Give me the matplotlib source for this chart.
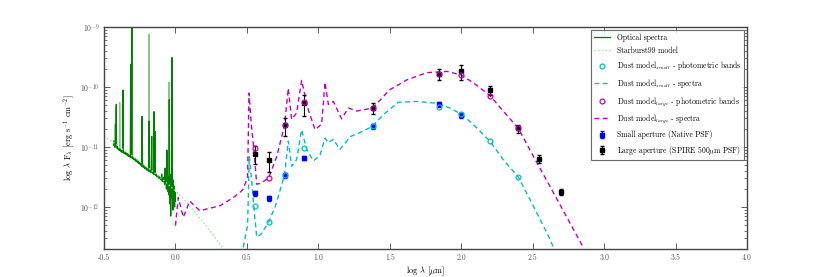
import numpy as np
import matplotlib
matplotlib.use("Agg")
import matplotlib.pyplot as plt

plt.rcParams['font.family'] = 'serif'
plt.rcParams['font.serif'] = ['cmr10', 'DejaVu Serif']
plt.rcParams['mathtext.fontset'] = 'cm'
plt.rcParams['axes.formatter.use_mathtext'] = True
plt.rcParams['axes.unicode_minus'] = True

# optical spectra (log lambda [um], log lambda F_lambda)
opt_x = [-0.432, -0.430, -0.428, -0.425, -0.422, -0.420, -0.418, -0.416, -0.414,
         -0.412, -0.408, -0.405, -0.400, -0.396, -0.392, -0.388, -0.384, -0.380,
         -0.376, -0.372, -0.369, -0.367, -0.365, -0.360, -0.356, -0.352, -0.348,
         -0.344, -0.340, -0.336, -0.332, -0.328, -0.324, -0.320, -0.316, -0.313,
         -0.311, -0.308, -0.305, -0.303, -0.300, -0.296, -0.292, -0.288, -0.284,
         -0.280, -0.276, -0.272, -0.268, -0.264, -0.260, -0.256, -0.252, -0.248,
         -0.244, -0.240, -0.236, -0.233, -0.230, -0.226, -0.222, -0.218, -0.214,
         -0.210, -0.206, -0.202, -0.198, -0.194, -0.190, -0.187, -0.185, -0.182,
         -0.178, -0.174, -0.170, -0.166, -0.163, -0.159, -0.155, -0.152, -0.150,
         -0.147, -0.143, -0.140, -0.136, -0.132, -0.128, -0.124, -0.120, -0.116,
         -0.112, -0.108, -0.104, -0.100, -0.096, -0.092, -0.088, -0.084, -0.080,
         -0.076, -0.072, -0.069, -0.066, -0.063, -0.060, -0.057, -0.054, -0.051,
         -0.048, -0.045, -0.043, -0.041, -0.038, -0.036, -0.033, -0.030, -0.027,
         -0.024, -0.021, -0.018, -0.015, -0.012, -0.009, -0.006, -0.003, 0.000]
opt_y = [-10.90, -10.97, -10.94, -11.00, -10.96, -10.62, -11.00, -10.98, -10.29,
         -11.01, -10.99, -11.03, -11.02, -11.05, -11.03, -11.06, -11.04, -11.08,
         -11.06, -11.09, -11.07, -10.05, -11.10, -11.08, -11.11, -11.09, -11.12,
         -11.10, -11.13, -11.11, -11.15, -11.13, -11.16, -11.14, -11.17, -9.62,
         -11.16, -11.18, -8.95, -11.17, -11.19, -11.18, -11.21, -11.19, -11.22,
         -11.20, -11.24, -11.22, -11.25, -11.23, -11.27, -11.25, -11.28, -11.26,
         -11.30, -11.28, -11.32, -10.49, -11.33, -11.30, -11.34, -11.32, -11.36,
         -11.34, -11.37, -11.35, -11.39, -11.37, -11.40, -11.38, -10.57, -11.41,
         -11.39, -11.42, -11.40, -10.82, -11.43, -11.41, -11.45, -11.43, -10.41,
         -11.46, -10.74, -11.47, -11.45, -11.49, -11.47, -11.50, -11.48, -11.52,
         -11.50, -11.53, -11.51, -11.55, -11.45, -11.57, -11.52, -11.58, -11.50,
         -11.62, -11.35, -11.60, -11.52, -11.70, -11.05, -11.65, -11.48, -11.75,
         -11.55, -11.80, -10.21, -11.62, -11.95, -11.50, -12.15, -11.45, -11.85,
         -9.51, -11.70, -12.05, -11.55, -11.95, -11.65, -12.00, -11.75, -11.90]

opt2_x = [-0.430, -0.420, -0.418, -0.415, -0.392, -0.390, -0.387, -0.360, -0.330,
          -0.300, -0.270, -0.236, -0.234, -0.231, -0.210, -0.187, -0.185, -0.182,
          -0.150, -0.120, -0.090, -0.065, -0.050, -0.047, -0.045, -0.042, -0.030,
          -0.020, -0.010, 0.000]
opt2_y = [-10.97, -11.00, -10.35, -11.01, -11.05, -10.26, -11.06, -11.10, -11.14,
          -11.17, -11.22, -11.29, -10.50, -11.30, -11.34, -11.38, -9.12, -11.39,
          -11.44, -11.49, -11.53, -11.57, -11.62, -11.63, -9.92, -11.65, -11.75,
          -11.60, -11.85, -11.80]

# Starburst99 model
sb_x = [-0.5, -0.4, -0.3, -0.2, -0.1, 0.0, 0.1, 0.2, 0.3, 0.36]
sb_y = [-10.82, -10.98, -11.15, -11.33, -11.52, -11.73, -11.98, -12.27, -12.58, -12.78]

# dust model spectra
large_x = [0.00, 0.02, 0.055, 0.10, 0.17, 0.31, 0.40, 0.45, 0.475, 0.505, 0.515,
           0.53, 0.548, 0.569, 0.60, 0.653, 0.71, 0.763, 0.79, 0.813, 0.848, 0.883,
           0.93, 0.977, 1.023, 1.047, 1.07, 1.105, 1.163, 1.21, 1.27, 1.38, 1.50,
           1.62, 1.76, 1.90, 2.00, 2.085, 2.20, 2.294, 2.40, 2.504, 2.62, 2.854]
large_y = [-12.31, -11.84, -12.17, -11.90, -12.06, -11.98, -11.85, -11.76, -11.70,
           -11.50, -10.10, -10.60, -11.02, -11.62, -11.60, -11.51, -11.15, -10.64,
           -10.02, -10.54, -10.43, -9.89, -10.38, -10.71, -10.62, -9.92, -10.29,
           -10.24, -10.53, -10.35, -10.40, -10.35, -10.045, -9.88, -9.76, -9.74,
           -9.80, -9.93, -10.14, -10.40, -10.69, -11.15, -11.65, -12.67]

small_x = [0.475, 0.505, 0.517, 0.535, 0.548, 0.569, 0.60, 0.653, 0.70, 0.763,
           0.79, 0.813, 0.848, 0.883, 0.918, 0.965, 1.01, 1.047, 1.07, 1.105,
           1.15, 1.20, 1.22, 1.29, 1.375, 1.455, 1.56, 1.69, 1.83, 1.92, 2.00,
           2.085, 2.20, 2.294, 2.40, 2.504, 2.61, 2.645]
small_y = [-12.67, -12.30, -11.15, -11.60, -11.985, -12.50, -12.45, -12.245, -11.98,
           -11.47, -10.90, -11.32, -11.21, -10.71, -11.04, -11.23, -11.15, -10.85,
           -10.93, -10.87, -11.04, -10.90, -10.83, -10.76, -10.66, -10.46, -10.255,
           -10.24, -10.27, -10.35, -10.45, -10.625, -10.90, -11.21, -11.50, -11.98,
           -12.48, -12.67]

# photometry, wavelengths in um
bands = [3.6, 4.5, 5.8, 8.0, 24, 70, 100, 160, 250, 350, 500]
small_ap = [1.7e-12, 1.4e-12, 3.4e-12, 6.6e-12, 2.2e-11, 5.2e-11, 3.4e-11]
small_ap_err = [1.5e-13, 1.2e-13, 3e-13, 6e-13, 2e-12, 5e-12, 3.5e-12]
large_ap = [7.8e-12, 6.0e-12, 2.3e-11, 5.35e-11, 4.5e-11, 1.66e-10, 1.82e-10,
            8.9e-11, 2.04e-11, 6.4e-12, 1.78e-12]
large_ap_err = [2.5e-12, 2.2e-12, 8e-12, 2e-11, 1e-11, 3.5e-11, 5e-11,
                1.5e-11, 3e-12, 1e-12, 2e-13]
model_small_phot = [1.03e-12, 5.7e-13, 3.4e-12, 9.8e-12, 2.2e-11, 4.65e-11,
                    3.56e-11, 1.26e-11, 3.2e-12]
model_large_phot = [9.5e-12, 3.1e-12, 2.3e-11, 5.6e-11, 4.5e-11, 1.66e-10,
                    1.6e-10, 7.2e-11, 2.04e-11]

lb = np.log10(bands)

fig = plt.figure(figsize=(8.3, 2.77), dpi=100)
ax = fig.add_axes([0.1253, 0.101, 0.7747, 0.8015])

ax.plot(opt2_x, 10 ** np.array(opt2_y), color='g', alpha=0.45, lw=0.9)
ax.plot(opt_x, 10 ** np.array(opt_y), color='g', lw=0.9, label='Optical spectra')
ax.plot(sb_x, 10 ** np.array(sb_y), ':', color='#90ee90', lw=1.0, label='Starburst99 model')

ax.errorbar(lb[:len(small_ap)], small_ap, yerr=small_ap_err, fmt='s', color='b',
            ecolor='b', ms=3.5, capsize=1.5, elinewidth=0.8, zorder=4,
            label='Small aperture (Native PSF)')
ax.errorbar(lb, large_ap, yerr=large_ap_err, fmt='s', color='k', ecolor='k',
            ms=3.5, capsize=1.5, elinewidth=0.8, zorder=4,
            label=r'Large aperture (SPIRE 500$\mu$m PSF)')

ax.plot(lb[:len(model_small_phot)], model_small_phot, 'o', mfc='none',
        mec='c', mew=0.9, ms=3.5, zorder=5,
        label=r'Dust model$_{small}$ - photometric bands')
ax.plot(small_x, 10 ** np.array(small_y), '--', color='c', lw=1.0,
        dashes=(3.5, 2.5), label=r'Dust model$_{small}$ - spectra')
ax.plot(lb[:len(model_large_phot)], model_large_phot, 'o', mfc='none',
        mec='m', mew=0.9, ms=3.5, zorder=5,
        label=r'Dust model$_{large}$ - photometric bands')
ax.plot(large_x, 10 ** np.array(large_y), '--', color='m', lw=1.0,
        dashes=(3.5, 2.5), label=r'Dust model$_{large}$ - spectra')

ax.set_yscale('log')
ax.set_xlim(-0.5, 4.0)
ax.set_ylim(2e-13, 1e-9)
ax.set_xticks(np.arange(-0.5, 4.01, 0.5))
ax.xaxis.set_major_formatter(matplotlib.ticker.FormatStrFormatter('%.1f'))
ax.tick_params(which='both', direction='in', top=True, right=True,
               labelsize=5.5, colors='#444444', labelcolor='#555555')
ax.tick_params(which='major', length=4, width=0.6)
ax.tick_params(which='minor', length=2, width=0.5)
for s in ax.spines.values():
    s.set_color('#444444')
    s.set_linewidth(1.0)

ax.set_xlabel(r'log $\lambda$ [$\mu$m]', fontsize=6, labelpad=2)
ax.set_ylabel(r'log $\lambda$ F$_\lambda$ [erg s$^{-1}$ cm$^{-2}$]', fontsize=6, labelpad=2)

h, lab = ax.get_legend_handles_labels()
names = ['Optical spectra', 'Starburst99 model',
         r'Dust model$_{small}$ - photometric bands', r'Dust model$_{small}$ - spectra',
         r'Dust model$_{large}$ - photometric bands', r'Dust model$_{large}$ - spectra',
         'Small aperture (Native PSF)', r'Large aperture (SPIRE 500$\mu$m PSF)']
hd = dict(zip(lab, h))
leg = ax.legend([hd[n] for n in names], names, loc='upper right', fontsize=5.5,
                frameon=True, fancybox=False, edgecolor='#444444',
                borderaxespad=0.4, handlelength=2.2, labelspacing=0.62)
leg.get_frame().set_linewidth(0.8)

fig.savefig('out.png', dpi=100)
